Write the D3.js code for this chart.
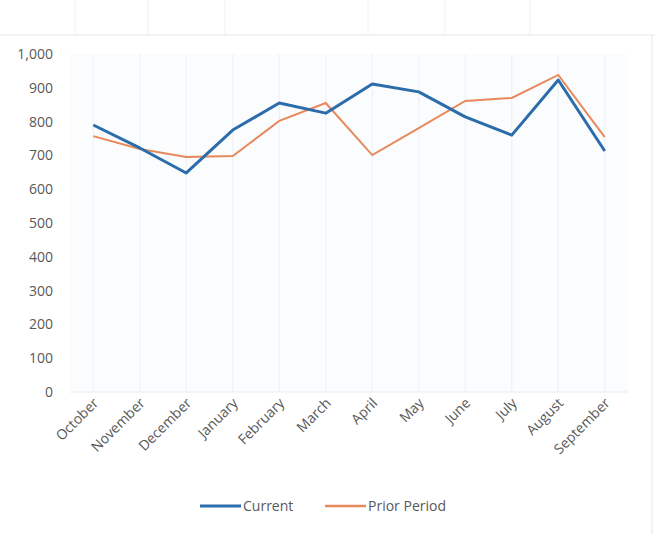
<!DOCTYPE html>
<html>
<head>
<meta charset="utf-8">
<script src="https://cdn.jsdelivr.net/npm/d3@7"></script>
<style>
  body { margin: 0; background: #fff; }
  svg { display: block; }
  text { font-family: "Open Sans", sans-serif; fill: #595959; }
</style>
</head>
<body>
<script>
// months of the fiscal year
var months = ["October", "November", "December", "January", "February", "March",
              "April", "May", "June", "July", "August", "September"];

var current = [790, 722, 648, 775, 855, 825, 911, 888, 814, 760, 923, 713];
var prior   = [757, 719, 695, 698, 802, 855, 701, 781, 861, 870, 938, 754];

var yTicks = [0, 100, 200, 300, 400, 500, 600, 700, 800, 900, 1000];

var width = 655, height = 534;

var svg = d3.select("body").append("svg")
    .attr("width", width)
    .attr("height", height);

// faint table lines from the scan
svg.append("line").attr("x1", 0).attr("x2", width).attr("y1", 35).attr("y2", 35)
    .style("stroke", "#e6e6e6");
svg.append("line").attr("x1", 652).attr("x2", 652).attr("y1", 35).attr("y2", height)
    .style("stroke", "#e6e6e6");
[75, 148, 225, 368, 445, 530].forEach(function(x) {
    svg.append("line").attr("x1", x).attr("x2", x).attr("y1", 0).attr("y2", 35)
        .style("stroke", "#f0f0f0");
});

var x = d3.scalePoint()
    .domain(months)
    .range([70, 628])
    .padding(0.5);

var y = d3.scaleLinear()
    .domain([0, 1000])
    .range([392, 54]);

// plot area background
svg.append("rect")
    .attr("x", 70).attr("y", 54)
    .attr("width", 558).attr("height", 338)
    .style("fill", "#fbfcfd");

// vertical gridlines
svg.selectAll(".vgrid")
    .data(months)
    .enter().append("line")
    .attr("class", "vgrid")
    .attr("x1", function(d) { return x(d); })
    .attr("x2", function(d) { return x(d); })
    .attr("y1", y(1000))
    .attr("y2", y(0))
    .style("stroke", "#eef1f4");

// baseline
svg.append("line")
    .attr("x1", 70).attr("x2", 628)
    .attr("y1", y(0)).attr("y2", y(0))
    .style("stroke", "#e8ecf0");

// y axis labels
svg.selectAll(".ylab")
    .data(yTicks)
    .enter().append("text")
    .attr("class", "ylab")
    .attr("x", 53)
    .attr("y", function(d) { return y(d); })
    .attr("dy", "0.35em")
    .attr("text-anchor", "end")
    .style("font-size", "14px")
    .text(function(d) { return d3.format(",")(d); });

// x axis labels, rotated
svg.selectAll(".xlab")
    .data(months)
    .enter().append("text")
    .attr("class", "xlab")
    .attr("text-anchor", "end")
    .attr("transform", function(d) {
        return "translate(" + (x(d) + 6) + ",404) rotate(-45)";
    })
    .style("font-size", "14px")
    .text(function(d) { return d; });

var line = d3.line()
    .x(function(d, i) { return x(months[i]); })
    .y(function(d) { return y(d); });

svg.append("path")
    .datum(prior)
    .attr("d", line)
    .style("fill", "none")
    .style("stroke", "#e8895c")
    .style("stroke-width", 2);

svg.append("path")
    .datum(current)
    .attr("d", line)
    .style("fill", "none")
    .style("stroke", "#2b6cab")
    .style("stroke-width", 3)
    .style("stroke-linejoin", "round");

// legend
var legend = [
    {name: "Current", color: "#2b6cab", w: 3, x: 200},
    {name: "Prior Period", color: "#e8895c", w: 2.5, x: 325}
];

var lg = svg.selectAll(".legend")
    .data(legend)
    .enter().append("g")
    .attr("transform", function(d) { return "translate(" + d.x + ",506)"; });

lg.append("line")
    .attr("x1", 0).attr("x2", 41)
    .style("stroke", function(d) { return d.color; })
    .style("stroke-width", function(d) { return d.w; });

lg.append("text")
    .attr("x", 43)
    .attr("dy", "0.35em")
    .style("font-size", "14px")
    .text(function(d) { return d.name; });
</script>
</body>
</html>
